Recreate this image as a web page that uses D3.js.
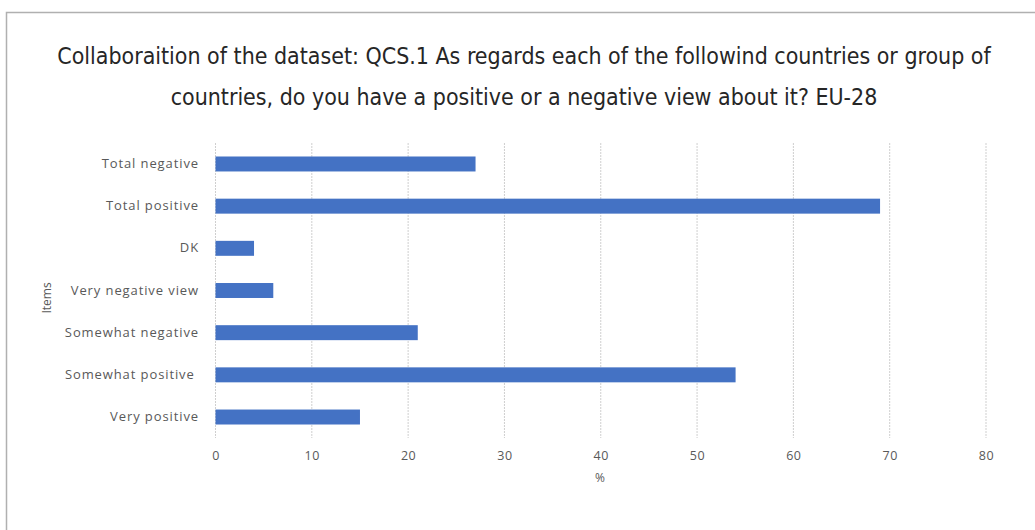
<!DOCTYPE html>
<html>
<head>
<meta charset="utf-8">
<script src="https://cdn.jsdelivr.net/npm/d3@7"></script>
<style>
  body { margin: 0; background: #fff; }
</style>
</head>
<body>
<svg id="chart" width="1035" height="530"></svg>
<script>
// data
var items = ["Total negative", "Total positive", "DK", "Very negative view",
             "Somewhat negative", "Somewhat positive ", "Very positive"];
var values = [27, 69, 4, 6, 21, 54, 15];
var xTicks = [0, 10, 20, 30, 40, 50, 60, 70, 80];
var titleLines = [
    "Collaboraition of the dataset: QCS.1 As regards each of the followind countries or group of",
    "countries, do you have a positive or a negative view about it? EU-28"
];

var svg = d3.select("#chart");

// frame
svg.append("path")
    .attr("d", "M 6.5 530 V 12.5 H 1035")
    .attr("fill", "none")
    .attr("stroke", "#b0b0b0")
    .attr("stroke-width", 1.5);

// title
var title = svg.selectAll(".title")
    .data(titleLines)
    .enter()
    .append("text")
    .attr("class", "title")
    .attr("x", 524)
    .attr("y", function (d, i) { return 64 + i * 41; })
    .attr("text-anchor", "middle")
    .attr("font-family", "'DejaVu Sans Condensed', 'Liberation Sans Narrow', sans-serif")
    .attr("font-size", 20)
    .attr("fill", "#262626")
    .text(function (d) { return d; });

// fit first line to width of the original
var w0 = title.node().getComputedTextLength();
title.attr("font-size", 20 * 934 / w0);

var x = d3.scaleLinear().domain([0, 80]).range([215.5, 986]);
var y = d3.scaleBand().domain(items).range([143, 438]).paddingInner(0.645).paddingOuter(0.32);

// grid
svg.append("g")
    .selectAll("line")
    .data(xTicks)
    .enter()
    .append("line")
    .attr("x1", function (d) { return x(d); })
    .attr("x2", function (d) { return x(d); })
    .attr("y1", 143)
    .attr("y2", 438)
    .attr("stroke", "#cfcfcf")
    .attr("stroke-width", 1)
    .attr("stroke-dasharray", "2,1");

// bars
svg.append("g")
    .selectAll("rect")
    .data(values)
    .enter()
    .append("rect")
    .attr("x", x(0))
    .attr("y", function (d, i) { return y(items[i]); })
    .attr("width", function (d) { return x(d) - x(0); })
    .attr("height", y.bandwidth())
    .attr("fill", "#4472c4");

// x axis labels
var xAxis = svg.append("g")
    .attr("transform", "translate(0,438)")
    .call(d3.axisBottom(x).tickValues(xTicks).tickSize(0).tickPadding(13));
xAxis.select(".domain").remove();
xAxis.selectAll("text")
    .attr("font-family", "'Open Sans', sans-serif")
    .attr("font-size", 12.5)
    .attr("letter-spacing", 0.6)
    .attr("fill", "#595959");

// y axis labels
var yAxis = svg.append("g")
    .attr("transform", "translate(199,0)")
    .call(d3.axisLeft(y).tickSize(0).tickPadding(0));
yAxis.select(".domain").remove();
yAxis.selectAll("text")
    .attr("font-family", "'Open Sans', sans-serif")
    .attr("font-size", 13)
    .attr("letter-spacing", 0.9)
    .attr("fill", "#595959")
    .style("white-space", "pre");

// axis titles
svg.append("text")
    .attr("x", 600)
    .attr("y", 482)
    .attr("text-anchor", "middle")
    .attr("font-family", "'Open Sans', sans-serif")
    .attr("font-size", 12)
    .attr("fill", "#595959")
    .text("%");

svg.append("text")
    .attr("transform", "translate(51,298) rotate(-90)")
    .attr("text-anchor", "middle")
    .attr("font-family", "'Open Sans', sans-serif")
    .attr("font-size", 12)
    .attr("fill", "#595959")
    .text("Items");
</script>
</body>
</html>
